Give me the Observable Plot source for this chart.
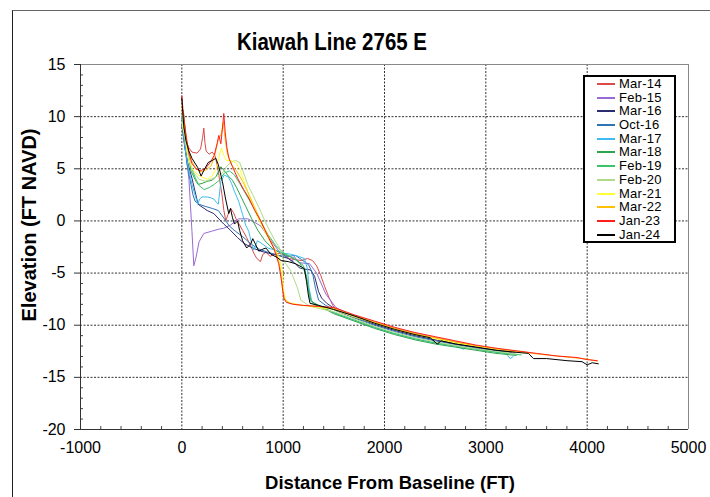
<!DOCTYPE html>
<html>
<head>
<meta charset="utf-8">
<script src="https://cdn.jsdelivr.net/npm/d3@7"></script>
<script src="https://cdn.jsdelivr.net/npm/@observablehq/plot@0.6"></script>
<style>
  html, body { margin: 0; padding: 0; background: #fff; }
  body { font-family: "Liberation Sans", Arial, sans-serif; color: #000; }
  #wrap { position: relative; width: 710px; height: 497px; overflow: hidden; background: #fff; }
  #border { position: absolute; left: 12px; top: 10px; width: 900px; height: 700px;
            border-left: 1.5px solid #222; border-top: 1.5px solid #666; }
  #chart { position: absolute; left: 0; top: 0; }
  .lbl { position: absolute; font-weight: bold; white-space: nowrap; }
  #title { left: 332px; top: 42px; font-size: 23px; transform: translate(-50%, -50%) scaleX(0.89); }
  #xlab { left: 390px; top: 483px; font-size: 18.5px; transform: translate(-50%, -50%); }
  #ylab { left: 29px; top: 225px; font-size: 20px; transform: translate(-50%, -50%) rotate(-90deg); }
  #legend { position: absolute; left: 583px; top: 75px; width: 89px; height: 164px;
            border: 2px solid #000; background: #fff; }
  .row { position: relative; height: 13.7px; }
  .row .sw { position: absolute; left: 12px; top: 6px; width: 18px; height: 0; border-top: 2px solid; }
  .row .tx { position: absolute; left: 34px; top: 0; font-size: 13px; line-height: 13.7px; letter-spacing: 0.25px; }
</style>
</head>
<body>
<div id="wrap">
  <div id="border"></div>
  <div id="chart"></div>
  <div id="title" class="lbl">Kiawah Line 2765 E</div>
  <div id="ylab" class="lbl">Elevation (FT NAVD)</div>
  <div id="xlab" class="lbl">Distance From Baseline (FT)</div>
  <div id="legend"></div>
</div>
<script>
// ---- Data: [distance from baseline (ft), elevation (ft NAVD)] ----
const names = ["Mar-14","Feb-15","Mar-16","Oct-16","Mar-17","Mar-18","Feb-19","Feb-20","Mar-21","Mar-22","Jan-23","Jan-24"];
const colors = ["#dc4a4a","#9a6ad4","#2b2d6e","#2e74b5","#3cbcf0","#2ea44f","#3cc46a","#b0da8a","#ffff33","#ffc000","#ff1e1e","#000000"];

const mar14 = [[0,9.6],[20,8.8],[40,7.7],[70,7.0],[100,6.6],[150,6.5],[185,6.9],[205,8.0],[217,8.9],[228,7.5],[240,6.7],[270,6.4],[300,6.6],[330,6.2],[355,5.0],[375,3.8],[395,2.6],[415,1.0],[434,0.0],[455,0.6],[483,1.2],[510,0.8],[535,0.2],[565,-0.3],[600,-0.9],[640,-1.6],[680,-2.4],[710,-3.1],[740,-3.6],[775,-3.9],[800,-3.2],[830,-3.0],[870,-3.4],[910,-3.2],[960,-3.1],[1010,-3.3],[1060,-3.6],[1110,-3.7],[1180,-3.8],[1240,-3.6],[1290,-3.8],[1330,-4.3],[1370,-5.2],[1410,-6.3],[1450,-7.3],[1490,-8.1],[1520,-8.5],[1700,-9.1],[1900,-9.7],[2100,-10.3],[2300,-10.8],[2500,-11.2],[2700,-11.6],[2900,-12.0],[3100,-12.3],[3300,-12.55]];

const feb15 = [[0,10.2],[30,7.5],[70,4.0],[100,-1.0],[118,-4.3],[140,-3.5],[170,-2.0],[217,-1.2],[290,-1.0],[360,-0.8],[414,-0.7],[480,-0.4],[560,0.2],[650,0.2],[730,-0.2],[780,-0.5],[850,-1.5],[950,-2.8],[1050,-3.6],[1090,-3.9],[1110,-3.4],[1150,-4.0],[1260,-4.1],[1330,-5.0],[1420,-7.0],[1520,-8.3],[1700,-9.2],[1900,-9.9],[2100,-10.5],[2300,-11.0],[2500,-11.4],[2700,-11.8],[2900,-12.1],[3100,-12.4],[3280,-12.6]];

const mar16 = [[0,9.2],[30,7.0],[60,5.5],[100,4.1],[160,1.6],[250,1.0],[316,0.7],[414,-0.3],[480,-0.9],[550,-1.6],[620,-2.2],[700,-2.6],[780,-2.9],[860,-3.1],[950,-3.3],[1050,-3.6],[1110,-4.0],[1160,-4.5],[1200,-4.6],[1270,-4.7],[1310,-5.3],[1350,-6.8],[1380,-7.4],[1430,-7.9],[1520,-8.5],[1700,-9.2],[1900,-9.9],[2100,-10.5],[2300,-11.0],[2500,-11.4],[2700,-11.75],[2900,-12.1],[3100,-12.4],[3250,-12.6]];

const oct16 = [[0,9.8],[20,8.0],[50,5.5],[80,4.0],[110,2.5],[130,1.9],[170,1.6],[230,1.4],[300,1.2],[360,1.0],[420,0.2],[470,-0.5],[530,-1.0],[600,-1.5],[680,-2.2],[760,-2.7],[850,-3.0],[950,-3.3],[1050,-3.4],[1120,-3.3],[1180,-3.7],[1250,-4.2],[1290,-5.0],[1320,-6.5],[1350,-7.6],[1420,-8.1],[1520,-8.6],[1700,-9.3],[1900,-10.0],[2100,-10.6],[2300,-11.1],[2500,-11.5],[2700,-11.85],[2900,-12.2],[3100,-12.45],[3200,-12.6]];

const mar17 = [[0,9.5],[20,8.0],[40,6.5],[70,4.8],[100,3.5],[130,2.5],[158,1.6],[175,2.1],[200,2.3],[250,2.3],[290,2.2],[316,2.1],[340,1.8],[360,1.6],[385,3.8],[420,4.4],[460,4.2],[490,3.6],[520,2.8],[560,1.9],[600,0.6],[630,-0.4],[660,-1.0],[690,-2.2],[710,-2.8],[730,-2.3],[745,-1.9],[780,-2.1],[850,-2.6],[920,-2.8],[1006,-3.1],[1080,-3.2],[1150,-3.4],[1210,-3.6],[1240,-4.6],[1255,-6.4],[1280,-7.6],[1300,-7.9],[1400,-8.3],[1500,-8.8],[1700,-9.5],[1900,-10.2],[2100,-10.8],[2300,-11.3],[2500,-11.7],[2700,-12.0],[2780,-12.3],[2820,-12.1],[2900,-12.3],[3100,-12.55],[3200,-12.7],[3240,-13.2],[3270,-13.0]];

const mar18 = [[0,10.3],[15,10.6],[30,9.0],[50,7.0],[90,4.8],[140,3.8],[160,3.5],[200,3.6],[250,3.8],[300,3.9],[340,4.3],[385,5.2],[420,4.8],[460,4.3],[500,3.9],[540,3.2],[580,2.4],[630,1.4],[690,0.2],[750,-0.9],[820,-1.9],[900,-2.7],[980,-3.1],[1060,-3.4],[1140,-3.8],[1200,-4.3],[1230,-5.3],[1250,-6.6],[1275,-7.7],[1350,-8.1],[1500,-8.9],[1700,-9.6],[1900,-10.3],[2100,-10.9],[2300,-11.4],[2500,-11.8],[2700,-12.1],[2900,-12.4],[3100,-12.7],[3300,-12.9]];

const feb19 = [[0,10.0],[20,9.3],[50,7.0],[90,5.2],[130,4.2],[170,3.4],[220,3.0],[270,3.2],[320,3.5],[370,3.9],[420,4.6],[470,4.8],[520,4.4],[570,3.6],[630,2.6],[700,1.4],[770,0.0],[850,-1.3],[930,-2.4],[1010,-3.1],[1090,-3.5],[1160,-4.0],[1210,-4.8],[1240,-6.0],[1265,-7.5],[1300,-8.0],[1400,-8.4],[1500,-8.8],[1700,-9.5],[1900,-10.2],[2100,-10.8],[2300,-11.3],[2500,-11.7],[2700,-12.0],[2900,-12.3],[3100,-12.6],[3350,-12.85]];

const feb20 = [[0,10.2],[20,9.0],[45,7.2],[80,5.6],[120,4.6],[170,4.0],[230,3.8],[290,4.0],[350,4.3],[400,4.6],[440,5.2],[480,5.6],[530,5.8],[570,5.6],[610,4.6],[650,3.5],[700,2.5],[760,1.3],[820,0.0],[870,-1.0],[920,-1.9],[960,-2.5],[1006,-3.8],[1075,-4.8],[1140,-6.4],[1175,-7.6],[1250,-8.1],[1350,-8.4],[1500,-8.7],[1700,-9.4],[1900,-10.1],[2100,-10.7],[2300,-11.2],[2500,-11.6],[2700,-11.95],[2900,-12.25],[3100,-12.5],[3300,-12.75]];

const mar21 = [[0,9.5],[30,8.0],[60,6.2],[100,5.0],[150,4.5],[200,4.2],[250,4.0],[300,4.3],[340,5.0],[370,6.3],[390,7.0],[414,6.3],[440,5.8],[480,5.8],[530,5.6],[570,5.0],[611,3.9],[660,2.5],[720,1.0],[780,-0.3],[850,-1.6],[910,-2.6],[960,-3.5],[990,-4.8],[1006,-6.8],[1025,-7.6],[1080,-7.9],[1200,-8.1],[1350,-8.3],[1500,-8.5],[1700,-9.2],[1900,-9.8],[2100,-10.4],[2300,-10.9],[2500,-11.3],[2700,-11.7],[2900,-12.0],[3100,-12.3],[3400,-12.6]];

const mar22 = [[0,11.0],[15,10.0],[35,8.5],[60,7.0],[100,5.7],[140,5.0],[190,4.7],[240,4.9],[290,5.3],[330,6.5],[360,7.8],[390,8.4],[410,9.5],[425,8.0],[450,6.4],[490,5.4],[540,4.8],[600,3.8],[650,2.8],[710,1.5],[770,0.2],[830,-1.0],[890,-2.2],[940,-3.2],[970,-4.5],[995,-6.5],[1015,-7.5],[1060,-7.9],[1180,-8.1],[1350,-8.2],[1500,-8.4],[1700,-9.1],[1900,-9.7],[2100,-10.3],[2300,-10.8],[2500,-11.2],[2700,-11.6],[2900,-11.95],[3100,-12.25],[3300,-12.5],[3500,-12.75],[3700,-12.95],[3900,-13.15],[4000,-13.25],[4100,-13.45]];

const jan23 = [[0,12.0],[10,10.8],[25,9.5],[45,8.0],[70,6.5],[100,5.5],[140,5.0],[180,4.8],[230,5.0],[280,5.6],[320,6.3],[350,7.5],[365,8.2],[385,7.4],[400,8.8],[414,10.3],[428,8.5],[445,7.0],[465,6.0],[500,5.2],[550,4.1],[611,3.0],[661,2.2],[720,1.0],[779,0.0],[840,-1.3],[907,-2.6],[956,-4.1],[980,-5.5],[1006,-7.4],[1030,-7.8],[1100,-8.0],[1200,-8.1],[1350,-8.2],[1500,-8.3],[1700,-9.0],[1900,-9.6],[2100,-10.2],[2300,-10.7],[2500,-11.1],[2700,-11.5],[2900,-11.9],[3100,-12.2],[3300,-12.45],[3500,-12.7],[3700,-12.95],[3900,-13.1],[4000,-13.3],[4100,-13.4]];

const jan24 = [[0,11.8],[8,10.5],[20,9.0],[40,7.7],[70,6.7],[100,6.0],[158,5.1],[190,4.3],[215,4.8],[260,5.6],[300,5.8],[335,6.0],[360,5.4],[400,3.8],[430,2.2],[463,0.7],[480,1.2],[500,0.3],[520,-0.3],[550,0.0],[570,-0.9],[600,-1.9],[640,-2.6],[680,-2.2],[700,-1.7],[730,-2.3],[760,-2.9],[800,-2.7],[830,-2.6],[880,-3.2],[940,-3.5],[980,-3.8],[1050,-3.9],[1120,-4.1],[1180,-4.4],[1210,-4.6],[1230,-5.8],[1250,-7.2],[1265,-7.9],[1350,-8.1],[1500,-8.5],[1700,-9.1],[1900,-9.8],[2100,-10.4],[2300,-10.9],[2450,-11.2],[2520,-11.8],[2560,-11.5],[2700,-11.8],[2900,-12.1],[3100,-12.4],[3300,-12.6],[3420,-12.7],[3470,-13.2],[3600,-13.2],[3800,-13.4],[3950,-13.5],[4000,-13.8],[4050,-13.6],[4110,-13.7]];

const seriesData = [mar14, feb15, mar16, oct16, mar17, mar18, feb19, feb20, mar21, mar22, jan23, jan24];

// ---- Axis ticks ----
const xTicks = [-1000, 0, 1000, 2000, 3000, 4000, 5000];
const yTicks = [-20, -15, -10, -5, 0, 5, 10, 15];
const xGrid = [0, 1000, 2000, 3000, 4000];
const yGrid = [-15, -10, -5, 0, 5, 10];
const xMinor = d3.range(-1000, 5000, 200).filter(v => v % 1000 !== 0);
const yMinor = d3.range(-20, 15, 1).filter(v => v % 5 !== 0);

const W = 710, H = 497, mL = 80, mR = 22, mT = 64, mB = 68;

const chart = Plot.plot({
  width: W, height: H,
  marginLeft: mL, marginRight: mR, marginTop: mT, marginBottom: mB,
  style: { fontFamily: '"Liberation Sans", Arial, sans-serif', fontSize: "16px", color: "#000", background: "transparent", overflow: "visible" },
  x: { domain: [-1000, 5000] },
  y: { domain: [-20, 15] },
  marks: [
    Plot.gridX(xGrid, { stroke: "#333", strokeOpacity: 1, strokeDasharray: "2,1.5", strokeWidth: 1 }),
    Plot.gridY(yGrid, { stroke: "#333", strokeOpacity: 1, strokeDasharray: "2,1.5", strokeWidth: 1 }),
    Plot.ruleY([15], { stroke: "#888" }),
    Plot.ruleX([5000], { stroke: "#888" }),
    Plot.tickX(xMinor, { x: d => d, stroke: "#444", insetTop: H - mT - mB - 3 }),
    Plot.tickY(yMinor, { y: d => d, stroke: "#444", insetRight: W - mL - mR - 3 }),
    ...seriesData.map((pts, i) => Plot.line(pts, { x: d => d[0], y: d => d[1], stroke: colors[i], strokeWidth: 1 })),
    Plot.ruleX([-1000], { stroke: "#333" }),
    Plot.ruleY([-20], { stroke: "#333" }),
    Plot.axisX({ ticks: xTicks, tickSize: 0, tickPadding: 12, tickFormat: d => String(d), label: null }),
    Plot.axisY({ ticks: yTicks, tickSize: 6, tickPadding: 9, tickFormat: d => String(d), label: null, stroke: "#333" })
  ]
});
document.getElementById("chart").appendChild(chart);

// ---- Legend ----
const legend = document.getElementById("legend");
names.forEach((n, i) => {
  const row = document.createElement("div");
  row.className = "row";
  const sw = document.createElement("div");
  sw.className = "sw";
  sw.style.borderTopColor = colors[i];
  const tx = document.createElement("div");
  tx.className = "tx";
  tx.textContent = n;
  row.appendChild(sw); row.appendChild(tx);
  legend.appendChild(row);
});
</script>
</body>
</html>
